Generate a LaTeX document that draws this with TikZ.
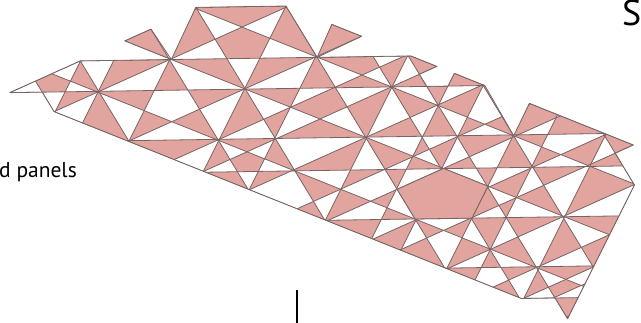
\documentclass[tikz,border=0pt]{standalone}
\usepackage{fontspec}
\setmainfont{PT Sans}
\definecolor{panel}{RGB}{226,164,158}
\definecolor{seam}{RGB}{120,100,100}
\tikzset{seamline/.style={draw=seam,line width=0.8pt,line join=round}}
\begin{document}
\begin{tikzpicture}[x=1pt,y=-1pt]
\useasboundingbox (0,0) rectangle (641,323);
% ---- line families (pentagrid) ----
\foreach \c [count=\i] in {5.5,57.3,88,137.8,170.5,220.4,270,301.5}{
  \coordinate (hA\i) at (-100,{\c+6.3}); \coordinate (hB\i) at (800,{\c-7.2});}
\foreach \c [count=\i] in {19.6,58.3,119,181,218}{
  \coordinate (pA\i) at (-100,{\c-168}); \coordinate (pB\i) at (800,{\c+192});}
\foreach \c [count=\i] in {-47,-8,55,94,119,158,198.5,224,263,286,326,365,390,403,428}{
  \coordinate (nA\i) at (-100,{\c+189}); \coordinate (nB\i) at (800,{\c-216});}
\foreach \c [count=\i] in {70,127,217,275,366,422.5,458,515,606}{
  \coordinate (sA\i) at ({\c-144.24},-100); \coordinate (sB\i) at ({\c+188.48},449);}
\foreach \c [count=\i] in {42,75,130.5,220,275,366.5,422,457,512,546,604,658}{
  \coordinate (tA\i) at ({\c+119},-100); \coordinate (tB\i) at ({\c-155.5},449);}
% ---- outline vertices ----
\coordinate (O1) at (intersection of hA3--hB3 and nA1--nB1);
\coordinate (O2) at (intersection of nA1--nB1 and sA1--sB1);
\coordinate (O4) at (intersection of nA1--nB1 and hA2--hB2);
\coordinate (O5) at (intersection of hA2--hB2 and pA3--pB3);
\coordinate (O6) at (intersection of nA1--nB1 and pA3--pB3);
\coordinate (O7) at (intersection of nA1--nB1 and sA3--sB3);
\coordinate (O8) at (intersection of hA1--hB1 and tA3--tB3);
\coordinate (O9) at (intersection of hA1--hB1 and tA4--tB4);
\coordinate (O10) at (intersection of hA2--hB2 and sA5--sB5);
\coordinate (O11) at (intersection of pA1--pB1 and tA5--tB5);
\coordinate (O12) at (intersection of pA1--pB1 and nA3--nB3);
\coordinate (O13) at (intersection of hA2--hB2 and pA1--pB1);
\coordinate (O14) at (intersection of pA1--pB1 and nA5--nB5);
\coordinate (O15) at (intersection of nA5--nB5 and sA7--sB7);
\coordinate (O16) at (intersection of sA7--sB7 and hA3--hB3);
\coordinate (O17) at (intersection of hA3--hB3 and tA7--tB7);
\coordinate (O18) at (intersection of pA1--pB1 and tA7--tB7);
\coordinate (O19) at (intersection of pA1--pB1 and hA3--hB3);
\coordinate (O20) at (intersection of pA2--pB2 and sA8--sB8);
\coordinate (O21) at (intersection of pA1--pB1 and tA9--tB9);
\coordinate (O22) at (intersection of pA1--pB1 and nA8--nB8);
\coordinate (O23) at (intersection of pA1--pB1 and sA9--sB9);
\coordinate (O24) at (intersection of pA1--pB1 and nA10--nB10);
\coordinate (O25) at (intersection of nA10--nB10 and sA9--sB9);
\coordinate (O26) at (intersection of sA9--sB9 and tA12--tB12);
\coordinate (O31) at (intersection of tA12--tB12 and sA7--sB7);
\coordinate (O32) at (intersection of sA7--sB7 and hA8--hB8);
\coordinate (O33) at (intersection of hA8--hB8 and pA5--pB5);
\coordinate (O34) at (intersection of pA5--pB5 and sA1--sB1);
\coordinate (O35) at (intersection of sA1--sB1 and hA3--hB3);
\def\outline{(O1)--(O2)--(O4)--(O5)--(O6)--(O7)--(O5)--(O8)--(O9)--(O10)--(O11)--(O12)--(O10)--(O13)--(O14)--(O15)--(O16)--(O17)--(O18)--(O19)--(O20)--(O21)--(O22)--(O23)--(O24)--(O25)--(O26)--(O31)--(O32)--(O33)--(O34)--(O35)--cycle}
% ---- solid pentagon panel ----
\coordinate (V1) at (intersection of pA3--pB3 and nA8--nB8);
\coordinate (V2) at (intersection of pA3--pB3 and tA9--tB9);
\coordinate (V3) at (intersection of tA9--tB9 and hA6--hB6);
\coordinate (V4) at (intersection of hA6--hB6 and sA5--sB5);
\coordinate (V5) at (intersection of sA5--sB5 and nA8--nB8);
\begin{scope}
  \clip \outline;
  \fill[panel,even odd rule] (-200,-200) rectangle (1000,1000)
    \foreach \i in {1,...,8}{(hA\i)--(hB\i)--(800,1000)--(-100,1000)--cycle}
    \foreach \i in {1,...,5}{(pA\i)--(pB\i)--(800,1000)--(-100,1000)--cycle}
    \foreach \i in {1,...,15}{(nA\i)--(nB\i)--(800,1000)--(-100,1000)--cycle}
    \foreach \i in {1,...,9}{(sA\i)--(sB\i)--(1000,449)--(1000,-100)--cycle}
    \foreach \i in {1,...,12}{(tA\i)--(tB\i)--(1000,449)--(1000,-100)--cycle};
  \foreach \i in {1,...,8}{\draw[seamline] (hA\i)--(hB\i);}
  \foreach \i in {1,...,5}{\draw[seamline] (pA\i)--(pB\i);}
  \foreach \i in {1,...,15}{\draw[seamline] (nA\i)--(nB\i);}
  \foreach \i in {1,...,9}{\draw[seamline] (sA\i)--(sB\i);}
  \foreach \i in {1,...,12}{\draw[seamline] (tA\i)--(tB\i);}
\end{scope}
\filldraw[seamline,fill=panel] (V1)--(V2)--(V3)--(V4)--(V5)--cycle;
\draw[seamline] \outline;
% ---- texts and marker ----
\node[anchor=base west,inner sep=0pt,font=\fontsize{21.5}{24}\selectfont] (lbl) at (-1,178) {d panels};
\node[anchor=base west,inner sep=0pt,font=\fontsize{36}{38}\selectfont] (ttl) at (622,26) {S};
\coordinate (mk1) at (297,290);
\coordinate (mk2) at (297,323);
\draw[line width=1.3pt] (mk1)--(mk2);
\end{tikzpicture}
\end{document}
